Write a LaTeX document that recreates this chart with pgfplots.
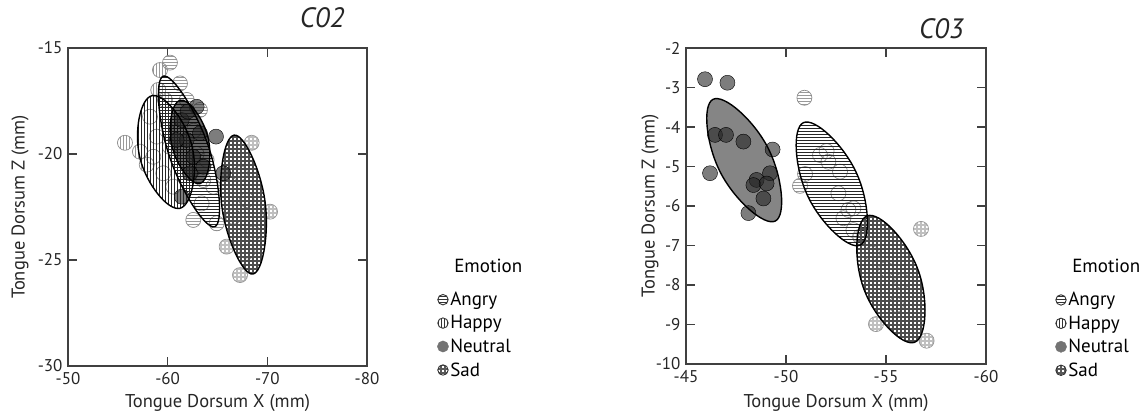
\documentclass[border=0pt]{standalone}
\usepackage{pgfplots}
\pgfplotsset{compat=1.18}
\usepackage{pgfplotstable}
\usepackage{fontspec}
\setmainfont{PT Sans}
\usetikzlibrary{patterns}

% custom patterns
\pgfdeclarepatternformonly{hl}{\pgfpoint{-1pt}{-1pt}}{\pgfpoint{4pt}{4pt}}{\pgfpoint{3pt}{3pt}}{%
  \pgfsetlinewidth{0.7pt}\pgfpathmoveto{\pgfpoint{-1pt}{0.5pt}}\pgfpathlineto{\pgfpoint{4pt}{0.5pt}}\pgfusepath{stroke}}
\pgfdeclarepatternformonly{vl}{\pgfpoint{-1pt}{-1pt}}{\pgfpoint{4pt}{4pt}}{\pgfpoint{3pt}{3pt}}{%
  \pgfsetlinewidth{0.7pt}\pgfpathmoveto{\pgfpoint{0.5pt}{-1pt}}\pgfpathlineto{\pgfpoint{0.5pt}{4pt}}\pgfusepath{stroke}}
\pgfdeclarepatternformonly{grd}{\pgfpoint{-1pt}{-1pt}}{\pgfpoint{5pt}{5pt}}{\pgfpoint{4pt}{4pt}}{%
  \pgfsetlinewidth{1.7pt}\pgfpathmoveto{\pgfpoint{-1pt}{1pt}}\pgfpathlineto{\pgfpoint{5pt}{1pt}}%
  \pgfpathmoveto{\pgfpoint{1pt}{-1pt}}\pgfpathlineto{\pgfpoint{1pt}{5pt}}\pgfusepath{stroke}}

% pattern-filled circle marks
\pgfdeclareplotmark{mA}{\pgfpathcircle{\pgfpointorigin}{\pgfplotmarksize}\pgfsetfillpattern{hl}{black!40}\pgfusepathqfillstroke}
\pgfdeclareplotmark{mH}{\pgfpathcircle{\pgfpointorigin}{\pgfplotmarksize}\pgfsetfillpattern{vl}{black!40}\pgfusepathqfillstroke}
\pgfdeclareplotmark{mS}{\pgfpathcircle{\pgfpointorigin}{\pgfplotmarksize}\pgfsetfillpattern{grd}{black!25}\pgfusepathqfillstroke}

\pgfplotsset{
  emo/.style={scale only axis, x dir=reverse, tick align=inside, major tick length=9pt,
    clip marker paths=true,
    axis line style={line width=1.6pt, black!75},
    tick style={line width=1.6pt, black!75},
    tick label style={font=\fontsize{17}{19}\selectfont, text=black!85},
    xticklabel style={yshift=-3pt},
    yticklabel style={xshift=-2pt},
    label style={font=\fontsize{18.5}{20}\selectfont, text=black!85},
    legend cell align=left,
    legend style={draw=none, fill=none, font=\fontsize{19}{21}\selectfont, row sep=5.5pt,
      nodes={inner sep=1.5pt}},
  },
  ptA/.style={only marks, forget plot, mark=mA, mark size=7.5pt, mark options={draw=black!45, line width=0.7pt}},
  ptH/.style={only marks, forget plot, mark=mH, mark size=7.5pt, mark options={draw=black!45, line width=0.7pt}},
  ptS/.style={only marks, forget plot, mark=mS, mark size=7.5pt, mark options={draw=black!40, line width=0.7pt}},
  ptN/.style={only marks, forget plot, mark=*, mark size=7.5pt, mark options={draw=none, fill=black!85, fill opacity=0.6}},
  ecyc/.style={forget plot, smooth cycle, tension=0.828},
  eline/.style={ecyc, black, line width=1.4pt},
  legA/.style={legend image code/.code={\filldraw[draw=black!80, line width=0.9pt, pattern=hl, pattern color=black!80] (5pt,0pt) circle (5.2pt);}},
  legH/.style={legend image code/.code={\filldraw[draw=black!80, line width=0.9pt, pattern=vl, pattern color=black!80] (5pt,0pt) circle (5.2pt);}},
  legN/.style={legend image code/.code={\fill[black!55] (5pt,0pt) circle (5.6pt);}},
  legS/.style={legend image code/.code={\filldraw[draw=black!80, line width=0.9pt, pattern=grd, pattern color=black!65] (5pt,0pt) circle (5.2pt);}},
}

% ---------- C02 data ----------
\pgfplotstableread{
x y
-60.23 -15.69
-61.24 -16.67
-61.91 -17.45
-63.24 -17.92
-62.60 -18.90
-63.91 -20.28
-63.58 -21.23
-64.58 -21.54
-62.57 -23.11
-63.41 -22.33
-64.92 -23.27
-62.90 -20.00
}\LA
\pgfplotstableread{
x y
-55.72 -19.47
-57.22 -19.89
-59.23 -16.04
-59.06 -16.98
-59.73 -17.45
-58.23 -18.24
-58.90 -19.18
-58.56 -20.13
-59.90 -18.87
-60.23 -19.66
-59.56 -20.91
-60.56 -21.54
-57.90 -20.50
}\LH
\pgfplotstableread{
x y
-64.85 -19.18
-61.41 -22.01
-62.91 -17.77
-61.41 -18.40
-61.91 -19.34
-62.57 -20.13
-63.24 -19.02
-62.24 -20.91
-60.90 -19.34
-63.58 -20.60
-65.58 -20.91
-62.00 -18.00
}\LN
\pgfplotstableread{
x y
-68.43 -19.47
-70.27 -22.72
-65.92 -24.37
-67.26 -25.71
-67.26 -20.91
-67.93 -22.17
-66.59 -22.96
-68.60 -23.74
-68.00 -24.60
}\LS
% ellipses C02 (axis end points)
\pgfplotstableread{
x y
-61.24 -22.56
-57.23 -20.21
-58.42 -17.25
-62.43 -19.60
}\eLH
\pgfplotstableread{
x y
-64.72 -23.43
-60.23 -20.19
-59.56 -16.33
-64.05 -19.58
}\eLA
\pgfplotstableread{
x y
-63.23 -21.40
-60.43 -19.63
-61.25 -17.46
-64.05 -19.23
}\eLN
\pgfplotstableread{
x y
-68.55 -25.66
-65.45 -22.52
-66.67 -19.11
-69.77 -22.24
}\eLS

% ---------- C03 data ----------
\pgfplotstableread{
x y
-45.95 -2.79
-47.07 -2.88
-46.45 -4.20
-47.00 -4.20
-47.87 -4.37
-49.33 -4.57
-46.20 -5.17
-49.20 -5.17
-48.53 -5.34
-48.37 -5.47
-49.03 -5.43
-48.87 -5.81
-48.12 -6.18
}\RN
\pgfplotstableread{
x y
-50.92 -3.26
-50.70 -5.49
-50.95 -5.19
-51.70 -4.71
-52.03 -4.61
-52.12 -4.88
-52.70 -5.13
-52.62 -5.68
-53.12 -6.10
-53.37 -6.06
-52.87 -6.31
-53.37 -6.61
}\RA
\pgfplotstableread{
x y
-56.75 -6.58
-54.50 -8.99
-57.03 -9.41
-55.00 -7.60
-55.50 -8.50
-54.30 -7.20
-55.80 -7.90
-53.70 -6.78
}\RS
\pgfplotstableread{
x y
-49.47 -6.38
-46.72 -5.15
-46.35 -3.30
-49.10 -4.53
}\eRN
\pgfplotstableread{
x y
-53.71 -6.99
-51.07 -5.73
-50.87 -3.89
-53.51 -5.15
}\eRA
\pgfplotstableread{
x y
-56.43 -9.45
-53.90 -8.11
-54.06 -6.25
-56.59 -7.60
}\eRS

\begin{document}
\begin{tikzpicture}
\useasboundingbox (0pt,0pt) rectangle (1147pt,-414pt);

% ================= C02 =================
\begin{scope}[shift={(68pt,-48pt)}]
\begin{axis}[emo, at={(0pt,0pt)}, anchor=north west, width=299pt, height=318pt,
  xmin=-80, xmax=-50, ymin=-30, ymax=-15,
  xtick={-80,-70,-60,-50}, xticklabels={-80,-70,-60,-50},
  ytick={-30,-25,-20,-15}, yticklabels={-30,-25,-20,-15},
  xlabel={Tongue Dorsum X (mm)}, ylabel={Tongue Dorsum Z (mm)},
  xlabel style={at={(axis description cs:0.5,-0.116)}, anchor=center},
  ylabel style={at={(axis description cs:-0.16,0.5)}, anchor=center},
  title={C02}, title style={at={(axis description cs:0.936,1.047)}, anchor=base east, font=\itshape\fontsize{28}{30}\selectfont, text=black!85},
  legend style={at={(axis description cs:1.224,0.349)}, anchor=north west},
]
\addplot[ptH] table {\LH};
\addplot[ptA] table {\LA};
\addplot[ptS] table {\LS};
\addplot[ecyc, draw=none, pattern=vl, pattern color=black!85] table {\eLH};
\addplot[ecyc, draw=none, pattern=hl, pattern color=black!85] table {\eLA};
\addplot[ecyc, draw=none, pattern=grd, pattern color=black!70] table {\eLS};
\addplot[ecyc, draw=none, fill=black, fill opacity=0.6] table {\eLN};
\addplot[ptN] table {\LN};
\addplot[eline] table {\eLH};
\addplot[eline] table {\eLA};
\addplot[eline] table {\eLN};
\addplot[eline] table {\eLS};
\addlegendimage{empty legend}\addlegendentry{\hspace{4pt}\raisebox{10pt}{Emotion}}
\addlegendimage{legA}\addlegendentry{Angry}
\addlegendimage{legH}\addlegendentry{Happy}
\addlegendimage{legN}\addlegendentry{Neutral}
\addlegendimage{legS}\addlegendentry{Sad}
\end{axis}
\end{scope}

% ================= C03 =================
\begin{scope}[shift={(686pt,-48pt)}]
\begin{axis}[emo, at={(0pt,0pt)}, anchor=north west, width=300pt, height=316pt,
  xmin=-60, xmax=-45, ymin=-10, ymax=-2,
  xtick={-60,-55,-50,-45}, xticklabels={-60,-55,-50,-45},
  ytick={-10,-9,-8,-7,-6,-5,-4,-3,-2}, yticklabels={-10,-9,-8,-7,-6,-5,-4,-3,-2},
  xlabel={Tongue Dorsum X (mm)}, ylabel={Tongue Dorsum Z (mm)},
  xlabel style={at={(axis description cs:0.5,-0.123)}, anchor=center},
  ylabel style={at={(axis description cs:-0.12,0.5)}, anchor=center},
  title={C03}, title style={at={(axis description cs:0.937,1.01)}, anchor=base east, font=\itshape\fontsize{28}{30}\selectfont, text=black!85},
  legend style={at={(axis description cs:1.22,0.344)}, anchor=north west},
]
\addplot[ecyc, draw=none, fill=black, fill opacity=0.48] table {\eRN};
\addplot[ptN] table {\RN};
\addplot[ptA] table {\RA};
\addplot[ptS] table {\RS};
\addplot[ecyc, draw=none, pattern=hl, pattern color=black!85] table {\eRA};
\addplot[ecyc, draw=none, pattern=grd, pattern color=black!70] table {\eRS};
\addplot[eline] table {\eRN};
\addplot[eline] table {\eRA};
\addplot[eline] table {\eRS};
\addlegendimage{empty legend}\addlegendentry{\hspace{4pt}\raisebox{10pt}{Emotion}}
\addlegendimage{legA}\addlegendentry{Angry}
\addlegendimage{legH}\addlegendentry{Happy}
\addlegendimage{legN}\addlegendentry{Neutral}
\addlegendimage{legS}\addlegendentry{Sad}
\end{axis}
\end{scope}
\end{tikzpicture}
\end{document}
